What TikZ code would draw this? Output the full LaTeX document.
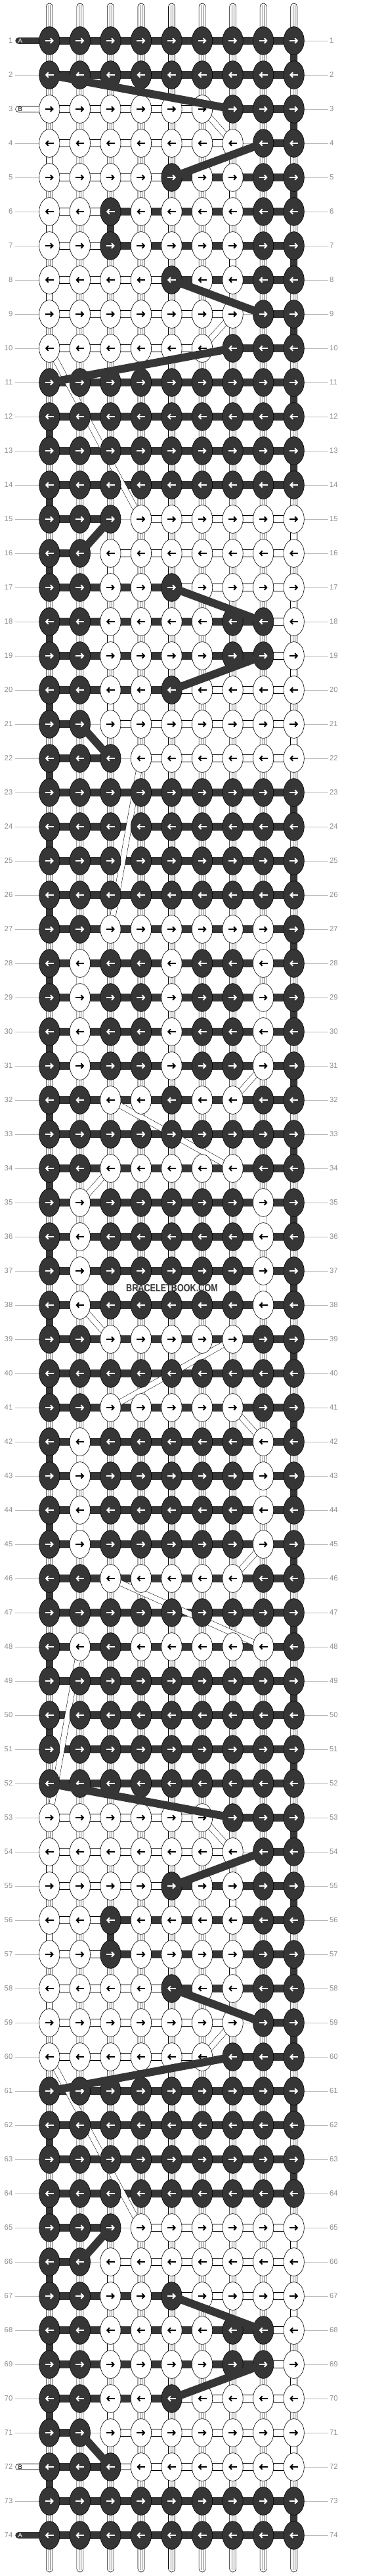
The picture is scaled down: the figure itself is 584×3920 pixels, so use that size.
\documentclass[tikz,border=0pt]{standalone}
\usepackage{fontspec}
\setmainfont{Liberation Sans}
\usetikzlibrary{shapes.geometric,arrows.meta}
\definecolor{dk}{HTML}{363636}
\definecolor{numgray}{HTML}{8E8E8E}
\definecolor{linegray}{HTML}{B8B8B8}
\pgfdeclarelayer{Lz}
\pgfdeclarelayer{La}
\pgfdeclarelayer{Lb}
\pgfdeclarelayer{Lc}
\pgfdeclarelayer{Ld}
\pgfsetlayers{Lz,La,Lb,Lc,main,Ld}
\tikzset{
 knotD/.style={ellipse, draw=black, line width=0.6pt, fill=dk, minimum width=31.3pt, minimum height=42.7pt, inner sep=0pt, outer sep=0pt},
 knotW/.style={knotD, fill=white},
 arr/.style={line width=2pt, -{Straight Barb[length=3.6pt,width=7.6pt]}},
 dkband/.style={dk, line width=12pt},
 dkvert/.style={dk, line width=10.6pt},
 whband/.style={line width=0.6pt, double=white, double distance=10.6pt},
 whvert/.style={line width=0.6pt, double=white, double distance=9.4pt},
 dkdiag/.style={dk, line width=12pt, shorten <=-3pt, shorten >=-3pt},
 whdiag/.style={line width=0.5pt, double=white, double distance=8pt},
 rowline/.style={linegray, line width=0.8pt},
 numl/.style={numgray, font=\fontsize{11.3}{12}\selectfont, inner sep=0pt},
 lbl/.style={font=\fontsize{9.5}{10}\selectfont, inner sep=0pt},
}
\newcommand\SetXY[2]{\pgfmathsetmacro\kx{75.3+46.55*(#2-1)}\pgfmathsetmacro\ky{62+52*(#1-1)}}
\newcommand\MyKnot[3]{%
 \SetXY{#1}{#2}%
 \pgfmathsetmacro\kxa{\kx-6.5}\pgfmathsetmacro\kxb{\kx+6.5}%
 \if#3D\relax
   \node[knotD] (n#1-#2) at (\kx,\ky) {};\def\acol{white}%
 \else
   \node[knotW] (n#1-#2) at (\kx,\ky) {};\def\acol{black}%
 \fi
 \ifodd#1\relax\draw[arr,color=\acol] (\kxa,\ky) -- (\kxb,\ky);\else\draw[arr,color=\acol] (\kxb,\ky) -- (\kxa,\ky);\fi}
\newcommand\KRow[9]{\MyKnot{\currow}{1}{#1}\MyKnot{\currow}{2}{#2}\MyKnot{\currow}{3}{#3}\MyKnot{\currow}{4}{#4}\MyKnot{\currow}{5}{#5}\MyKnot{\currow}{6}{#6}\MyKnot{\currow}{7}{#7}\MyKnot{\currow}{8}{#8}\MyKnot{\currow}{9}{#9}}
\newcommand\KR[1]{\def\currow{#1}\KRow}
\newcommand\ROff{0}
\newcommand\HDk[3]{\pgfmathtruncatemacro\rA{#1+\ROff}\begin{pgfonlayer}{Lb}\draw[dkband] (n\rA-#2.center) -- (n\rA-#3.center);\end{pgfonlayer}}
\newcommand\HWk[3]{\pgfmathtruncatemacro\rA{#1+\ROff}\begin{pgfonlayer}{La}\draw[whband] (n\rA-#2.center) -- (n\rA-#3.center);\end{pgfonlayer}}
\newcommand\VDk[2]{\pgfmathtruncatemacro\rA{#1+\ROff}\pgfmathtruncatemacro\rB{#1+\ROff+1}\begin{pgfonlayer}{Lb}\draw[dkvert] (n\rA-#2.center) -- (n\rB-#2.center);\end{pgfonlayer}}
\newcommand\VWk[2]{\pgfmathtruncatemacro\rA{#1+\ROff}\pgfmathtruncatemacro\rB{#1+\ROff+1}\begin{pgfonlayer}{La}\draw[whvert] (n\rA-#2.center) -- (n\rB-#2.center);\end{pgfonlayer}}
\newcommand\DDk[4]{\pgfmathtruncatemacro\rA{#1+\ROff}\pgfmathtruncatemacro\rB{#3+\ROff}\begin{pgfonlayer}{Ld}\draw[dkdiag] (n\rA-#2) -- (n\rB-#4);\end{pgfonlayer}}
\newcommand\DWk[4]{\pgfmathtruncatemacro\rA{#1+\ROff}\pgfmathtruncatemacro\rB{#3+\ROff}\begin{pgfonlayer}{Lc}\draw[whdiag] (n\rA-#2.center) -- (n\rB-#4.center);\end{pgfonlayer}}
\newcommand\BlockConn{%
 \DDk{2}{1}{3}{7}%
 \HDk{3}{7}{9}\HWk{3}{1}{6}\DWk{3}{6}{4}{7}\VDk{3}{9}%
 \HDk{4}{8}{9}\HWk{4}{1}{7}\DDk{4}{8}{5}{5}\VWk{4}{1}%
 \HDk{5}{5}{9}\HWk{5}{1}{7}\VDk{5}{9}\VWk{5}{7}%
 \HDk{6}{3}{9}\HWk{6}{1}{7}\VDk{6}{3}\VWk{6}{1}%
 \HDk{7}{3}{9}\HWk{7}{1}{7}\VDk{7}{9}\VWk{7}{7}%
 \HDk{8}{5}{9}\HWk{8}{1}{7}\DDk{8}{5}{9}{8}\VWk{8}{1}%
 \HDk{9}{8}{9}\HWk{9}{1}{7}\VDk{9}{9}\DWk{9}{7}{10}{6}%
 \HDk{10}{7}{9}\HWk{10}{1}{6}\DDk{10}{7}{11}{1}\DWk{10}{1}{15}{4}%
 \HDk{11}{1}{9}\VDk{11}{9}\HDk{12}{1}{9}\VDk{12}{1}\HDk{13}{1}{9}\VDk{13}{9}\HDk{14}{1}{9}\VDk{14}{1}%
 \HDk{15}{1}{3}\HWk{15}{4}{9}\DDk{15}{3}{16}{2}\VWk{15}{9}%
 \HDk{16}{1}{2}\HWk{16}{3}{9}\VDk{16}{1}\VWk{16}{3}%
 \HDk{17}{1}{5}\HWk{17}{3}{9}\DDk{17}{5}{18}{8}\VWk{17}{9}%
 \HDk{18}{1}{8}\HWk{18}{3}{9}\VDk{18}{1}\VWk{18}{3}%
 \HDk{19}{1}{8}\HWk{19}{3}{9}\DDk{19}{8}{20}{5}\VWk{19}{9}%
 \HDk{20}{1}{5}\HWk{20}{3}{9}\VDk{20}{1}\VWk{20}{3}%
 \HDk{21}{1}{2}\HWk{21}{3}{9}\DDk{21}{2}{22}{3}\VWk{21}{9}%
 \HDk{22}{1}{3}\HWk{22}{4}{9}\VDk{22}{1}%
}
\begin{document}
\begin{tikzpicture}[x=1pt,y=-1pt]
\useasboundingbox (0,0) rectangle (584,3920);
\begin{pgfonlayer}{Lz}
\fill[white] (0,0) rectangle (584,3920);
\foreach \r in {1,...,74} {\SetXY{\r}{1}\draw[rowline] (23.3,\ky) -- (500,\ky);}
\foreach \c in {1,...,9} {\SetXY{1}{\c}
 \draw[fill=white, line width=0.6pt, rounded corners=5pt] (\kx-5,5) rectangle (\kx+5,3914);
 \draw[black!55, line width=0.35pt] (\kx-1.3,8) -- (\kx-1.3,3911) (\kx+1.3,8) -- (\kx+1.3,3911);}
\end{pgfonlayer}
% knots
\KR{1}DDDDDDDDD
\KR{2}DDDDDDDDD
\KR{3}WWWWWWDDD
\KR{4}WWWWWWWDD
\KR{5}WWWWDWWDD
\KR{6}WWDWWWWDD
\KR{7}WWDWWWWDD
\KR{8}WWWWDWWDD
\KR{9}WWWWWWWDD
\KR{10}WWWWWWDDD
\KR{11}DDDDDDDDD
\KR{12}DDDDDDDDD
\KR{13}DDDDDDDDD
\KR{14}DDDDDDDDD
\KR{15}DDDWWWWWW
\KR{16}DDWWWWWWW
\KR{17}DDWWDWWWW
\KR{18}DDWWWWDDW
\KR{19}DDWWWWDDW
\KR{20}DDWWDWWWW
\KR{21}DDWWWWWWW
\KR{22}DDDWWWWWW
\KR{23}DDDDDDDDD
\KR{24}DDDDDDDDD
\KR{25}DDDDDDDDD
\KR{26}DDDDDDDDD
\KR{27}DDWWWWWWD
\KR{28}DWDDWDDWD
\KR{29}DWDDWDDWD
\KR{30}DWDDWDDWD
\KR{31}DWDDWDDWD
\KR{32}DDWWDWWDD
\KR{33}DDDDDDDDD
\KR{34}DDWWWWWDD
\KR{35}DWDDDDDWD
\KR{36}DWDDDDDWD
\KR{37}DWDDDDDWD
\KR{38}DWDDDDDWD
\KR{39}DDWWWWWDD
\KR{40}DDDDDDDDD
\KR{41}DDWWWWWDD
\KR{42}DWDDDDDWD
\KR{43}DWDDDDDWD
\KR{44}DWDDDDDWD
\KR{45}DWDDDDDWD
\KR{46}DDWWWWWDD
\KR{47}DDDDDDDDD
\KR{48}DWDWWWWWD
\KR{49}DDDDDDDDD
\KR{50}DDDDDDDDD
\KR{51}DDDDDDDDD
\KR{52}DDDDDDDDD
\KR{53}WWWWWWDDD
\KR{54}WWWWWWWDD
\KR{55}WWWWDWWDD
\KR{56}WWDWWWWDD
\KR{57}WWDWWWWDD
\KR{58}WWWWDWWDD
\KR{59}WWWWWWWDD
\KR{60}WWWWWWDDD
\KR{61}DDDDDDDDD
\KR{62}DDDDDDDDD
\KR{63}DDDDDDDDD
\KR{64}DDDDDDDDD
\KR{65}DDDWWWWWW
\KR{66}DDWWWWWWW
\KR{67}DDWWDWWWW
\KR{68}DDWWWWDDW
\KR{69}DDWWWWDDW
\KR{70}DDWWDWWWW
\KR{71}DDWWWWWWW
\KR{72}DDDWWWWWW
\KR{73}DDDDDDDDD
\KR{74}DDDDDDDDD
% connectors
\renewcommand\ROff{0}\BlockConn
\renewcommand\ROff{50}\BlockConn
\renewcommand\ROff{0}
\HDk{1}{1}{9}\HDk{2}{1}{9}\VDk{1}{9}
\foreach \r in {23,...,52} {\HDk{\r}{1}{9}}
\HDk{73}{1}{9}\HDk{74}{1}{9}
\foreach \r in {23,25,...,51} {\VDk{\r}{9}}
\foreach \r in {24,26,...,50} {\VDk{\r}{1}}
\VDk{73}{9}
\VWk{27}{8}\VWk{28}{2}\VWk{29}{8}\VWk{30}{2}
\VWk{35}{8}\VWk{36}{2}\VWk{37}{8}
\VWk{42}{2}\VWk{43}{8}\VWk{44}{2}
\DWk{22}{4}{27}{3}\DWk{31}{8}{32}{7}\DWk{32}{3}{34}{7}\DWk{34}{3}{35}{2}
\DWk{38}{2}{39}{3}\DWk{39}{7}{41}{3}\DWk{41}{7}{42}{8}\DWk{45}{8}{46}{7}
\DWk{46}{3}{48}{8}\DWk{48}{2}{53}{1}
% thread end labels
\begin{pgfonlayer}{Lb}
\draw[dk, line width=10pt, line cap=round] (28.3,62) -- (n1-1.center);
\draw[dk, line width=10pt, line cap=round] (28.3,3858) -- (n74-1.center);
\end{pgfonlayer}
\begin{pgfonlayer}{La}
\draw[line width=0.6pt, double=white, double distance=8.8pt, line cap=round] (28.3,166) -- (n3-1.center);
\draw[line width=0.6pt, double=white, double distance=8.8pt, line cap=round] (28.3,3754) -- (n72-4.center);
\end{pgfonlayer}
\begin{pgfonlayer}{Ld}
\node[lbl, white] at (30.8,62) {A};
\node[lbl, black] at (30.8,166) {B};
\node[lbl, black] at (30.8,3754) {B};
\node[lbl, white] at (30.8,3858) {A};
\node[dk, font=\bfseries\fontsize{15.8}{16}\selectfont, xscale=0.8, inner sep=0pt] at (262,1960) {BRACELETBOOK.COM};
\end{pgfonlayer}
% row numbers
\foreach \r in {1,...,74} {\SetXY{\r}{1}
 \node[numl, anchor=east] at (19.5,\ky) {\r};
 \node[numl, anchor=west] at (502,\ky) {\r};}
\end{tikzpicture}
\end{document}
